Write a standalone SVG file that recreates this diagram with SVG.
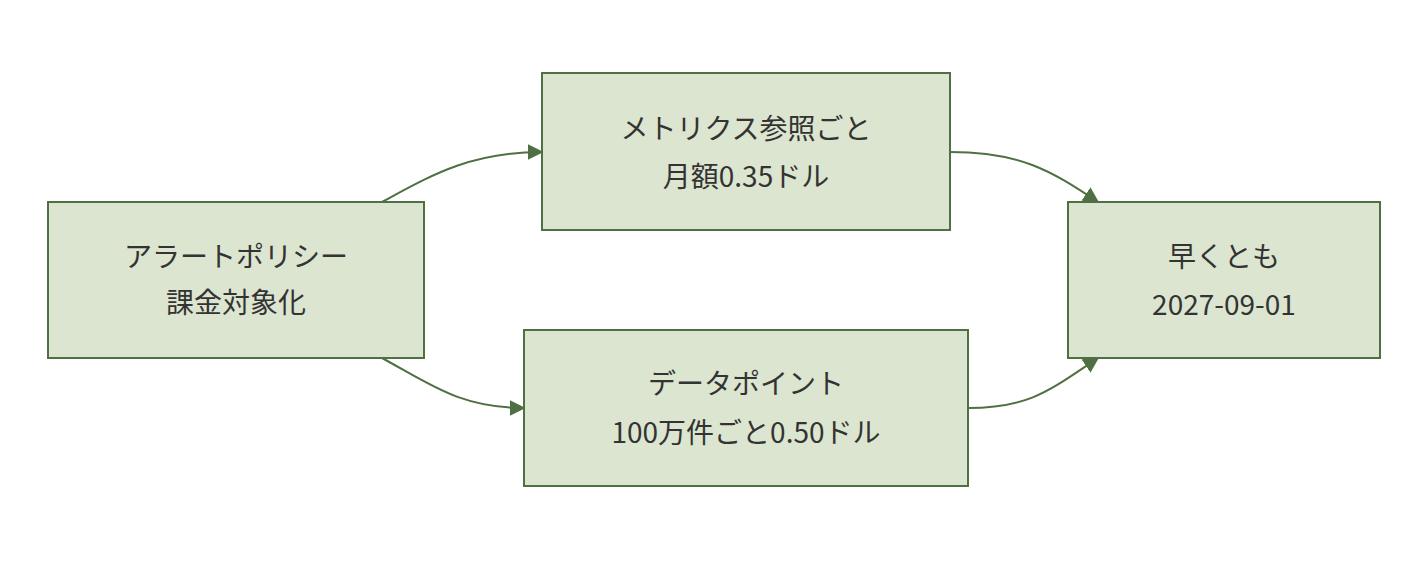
<svg xmlns="http://www.w3.org/2000/svg" width="1428" height="564" viewBox="0 0 1428 564">
<style>
.n rect{fill:#dce5cf;stroke:#4f7042;stroke-width:2}
.n text{font-family:"Noto Sans CJK JP","Noto Sans",sans-serif;font-size:28px;fill:#333;text-anchor:middle}
.e path{fill:none;stroke:#4f7042;stroke-width:2;marker-end:url(#a)}
</style>
<defs><marker id="a" viewBox="0 0 10 10" refX="9" refY="5" markerWidth="8" markerHeight="8" orient="auto"><path d="M0,0L10,5L0,10z" fill="#4f7042"/></marker></defs>
<rect width="1428" height="564" fill="#fff"/>
<g class="e">
<path d="M382,202 C430,176 470,152 542,152"/>
<path d="M382,358 C430,384 460,408 524,408"/>
<path d="M950,152 C1020,152 1050,170 1098,202"/>
<path d="M968,408 C1030,408 1050,390 1098,358"/>
</g>
<g class="n" id="n1"><rect x="48" y="202" width="376" height="156"/><text x="236" y="267">アラートポリシー</text><text x="236" y="313">課金対象化</text></g>
<g class="n" id="n2"><rect x="542" y="73" width="408" height="157"/><text x="746" y="139">メトリクス参照ごと</text><text x="746" y="187">月額0.35ドル</text></g>
<g class="n" id="n3"><rect x="524" y="330" width="444" height="156"/><text x="746" y="394">データポイント</text><text x="746" y="443">100万件ごと0.50ドル</text></g>
<g class="n" id="n4"><rect x="1068" y="202" width="312" height="156"/><text x="1224" y="267">早くとも</text><text x="1224" y="315">2027-09-01</text></g>
</svg>
